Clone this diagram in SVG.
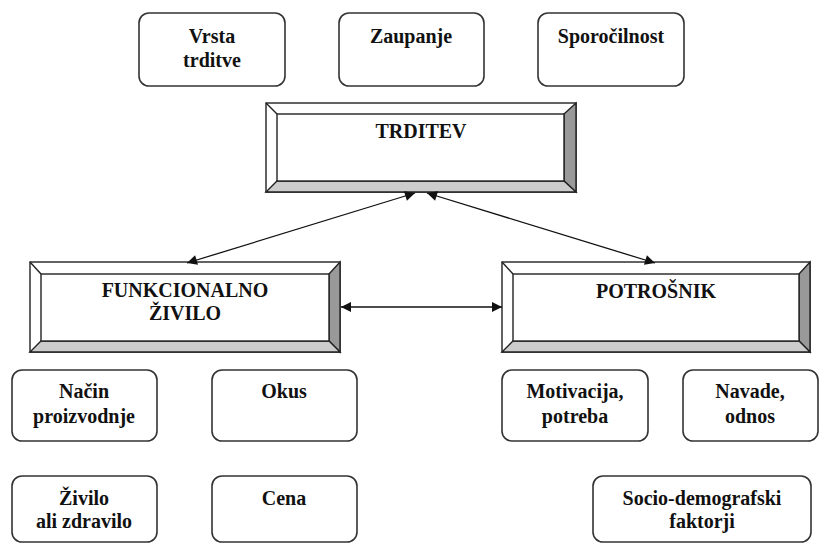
<svg xmlns="http://www.w3.org/2000/svg" width="820" height="543" viewBox="0 0 820 543">
<defs>
<style>
.box{fill:#fff;stroke:#333;stroke-width:1.6}
.t{font-family:'Liberation Serif','Times New Roman','DejaVu Serif',serif;font-weight:700;font-size:20px;fill:#111;text-anchor:middle}
.bv{stroke:#222;stroke-width:1.4}
.con{stroke:#111;stroke-width:1.3;fill:none;marker-start:url(#ah);marker-end:url(#ah)}
</style>
<marker id="ah" viewBox="0 0 10 10" refX="10" refY="5" markerWidth="12" markerHeight="10" markerUnits="userSpaceOnUse" orient="auto-start-reverse">
<path d="M0,0 L10,5 L0,10 z" fill="#111"/>
</marker>
</defs>
<rect width="820" height="543" fill="#fff"/>

<g id="vrsta"><rect class="box" x="139" y="13" width="146" height="73" rx="10"/><text class="t" x="212" y="43">Vrsta</text><text class="t" x="212" y="67">trditve</text></g>
<g id="zaupanje"><rect class="box" x="339" y="13" width="145" height="73" rx="10"/><text class="t" x="411" y="43">Zaupanje</text></g>
<g id="sporocilnost"><rect class="box" x="538" y="13" width="146" height="73" rx="10"/><text class="t" x="611" y="43">Sporočilnost</text></g>

<g id="trditev">
<rect x="266" y="103" width="310" height="89" fill="#fff" class="bv"/>
<polygon points="564,114 576,103 576,192 564,181" fill="#999" class="bv"/>
<polygon points="277,181 564,181 576,192 266,192" fill="#ccc" class="bv"/>
<rect x="277" y="114" width="287" height="67" fill="#fff" class="bv"/>
<line x1="266" y1="103" x2="277" y2="114" class="bv"/>
<text class="t" x="421" y="138">TRDITEV</text>
</g>

<g id="funkcionalno">
<rect x="30" y="262" width="310" height="90" fill="#fff" class="bv"/>
<polygon points="329,274 340,262 340,352 329,341" fill="#999" class="bv"/>
<polygon points="41,341 329,341 340,352 30,352" fill="#ccc" class="bv"/>
<rect x="41" y="274" width="288" height="67" fill="#fff" class="bv"/>
<line x1="30" y1="262" x2="41" y2="274" class="bv"/>
<text class="t" x="185" y="297">FUNKCIONALNO</text>
<text class="t" x="185" y="320">ŽIVILO</text>
</g>

<g id="potrosnik">
<rect x="502" y="262" width="308" height="90" fill="#fff" class="bv"/>
<polygon points="799,274 810,262 810,352 799,341" fill="#999" class="bv"/>
<polygon points="513,341 799,341 810,352 502,352" fill="#ccc" class="bv"/>
<rect x="513" y="274" width="286" height="67" fill="#fff" class="bv"/>
<line x1="502" y1="262" x2="513" y2="274" class="bv"/>
<text class="t" x="656" y="298">POTROŠNIK</text>
</g>

<g id="nacin"><rect class="box" x="12" y="370" width="145" height="71" rx="10"/><text class="t" x="84" y="398">Način</text><text class="t" x="84" y="423">proizvodnje</text></g>
<g id="okus"><rect class="box" x="212" y="370" width="145" height="71" rx="10"/><text class="t" x="284" y="398">Okus</text></g>
<g id="zivilo"><rect class="box" x="12" y="476" width="145" height="66" rx="10"/><text class="t" x="84" y="505">Živilo</text><text class="t" x="84" y="528">ali zdravilo</text></g>
<g id="cena"><rect class="box" x="212" y="476" width="145" height="66" rx="10"/><text class="t" x="284" y="505">Cena</text></g>
<g id="motivacija"><rect class="box" x="502" y="370" width="146" height="71" rx="10"/><text class="t" x="575" y="398">Motivacija,</text><text class="t" x="575" y="423">potreba</text></g>
<g id="navade"><rect class="box" x="683" y="370" width="135" height="71" rx="10"/><text class="t" x="750" y="398">Navade,</text><text class="t" x="750" y="423">odnos</text></g>
<g id="socio"><rect class="box" x="593" y="476" width="218" height="66" rx="10"/><text class="t" x="702" y="505">Socio-demografski</text><text class="t" x="702" y="528">faktorji</text></g>

<g id="connectors">
<line class="con" x1="187" y1="263" x2="415" y2="193"/>
<line class="con" x1="427" y1="193" x2="655" y2="263"/>
<line class="con" x1="341" y1="307" x2="502" y2="307"/>
</g>
</svg>
